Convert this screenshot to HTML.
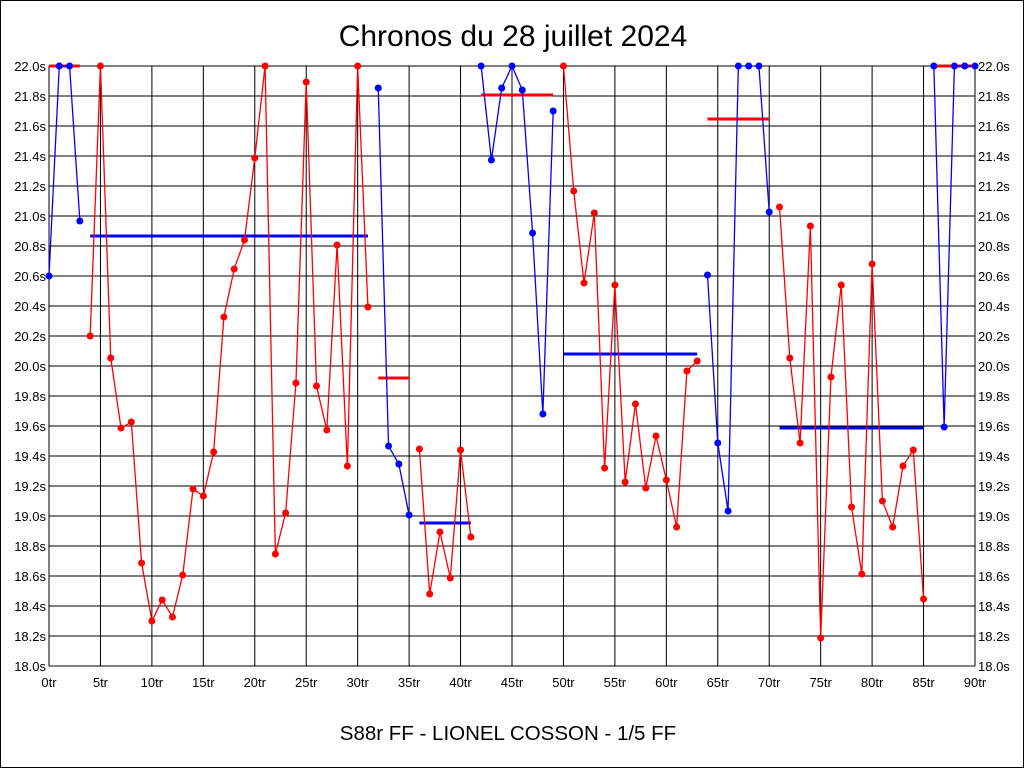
<!DOCTYPE html>
<html><head><meta charset="utf-8"><style>
html,body{margin:0;padding:0;background:#fff}
svg{display:block}
text{font-family:"Liberation Sans",Arial,sans-serif}
</style></head><body>
<svg width="1024" height="768" xmlns="http://www.w3.org/2000/svg" id="s">
<rect x="0.5" y="0.5" width="1023" height="767" fill="#fff" stroke="#000"/>
<text x="513" y="46" font-size="30" text-anchor="middle">Chronos du 28 juillet 2024</text>
<text x="508" y="740" font-size="20.5" text-anchor="middle">S88r FF - LIONEL COSSON - 1/5 FF</text>
<g id="grid"></g>
<g id="data"></g>
</svg>
<script>
var ns="http://www.w3.org/2000/svg",s=document.getElementById('s'),g=document.getElementById('grid'),d=document.getElementById('data');
function el(p,t,a,txt){var e=document.createElementNS(ns,t);for(var k in a)e.setAttribute(k,a[k]);if(txt!=null)e.textContent=txt;p.appendChild(e);return e;}
var X0=49,X1=975,Y0=66,Y1=666;
function px(i){return X0+i*(X1-X0)/90;}
for(var k=0;k<=20;k++){var y=Y0+k*30;el(g,'line',{x1:X0,x2:X1,y1:y,y2:y,stroke:'#000','stroke-width':1});
 var v=(22-k*0.2).toFixed(1)+'s';
 el(g,'text',{x:X0-3,y:y+5,'font-size':13,'text-anchor':'end'},v);
 el(g,'text',{x:X1+3,y:y+5,'font-size':13},v);}
for(var k=0;k<=18;k++){var x=px(k*5);el(g,'line',{x1:x,x2:x,y1:Y0,y2:Y1,stroke:'#000','stroke-width':1});
 el(g,'text',{x:x,y:Y1+21,'font-size':13,'text-anchor':'middle'},(k*5)+'tr');}
var segs=[
['b',0,[276,66,66,221]],
['r',4,[336,66,358,428,422,563,621,600,617,575,489,496,452,317,269,240,158,66,554,513,383,82,386,430,245,466,66,307]],
['b',32,[88,446,464,515]],
['r',36,[449,594,532,578,450,537]],
['b',42,[66,160,88,66,90,233,414,111]],
['r',50,[66,191,283,213,468,285,482,404,488,436,480,527,371,361]],
['b',64,[275,443,511,66,66,66,212]],
['r',71,[207,358,443,226,638,377,285,507,574,264,501,527,466,450,599]],
['b',86,[66,427,66,66,66]]];
var col={b:'#0000ff',r:'#ff0000'};
el(d,'line',{x1:px(0),x2:px(3),y1:66,y2:66,stroke:'#f00','stroke-width':3});
el(d,'line',{x1:px(86),x2:px(90),y1:66,y2:66,stroke:'#f00','stroke-width':3});
var avg=[['b',4,31,236],['r',32,35,378],['b',36,41,523],['r',42,49,95],['b',50,63,354],['r',64,70,119],['b',71,85,428]];
avg.forEach(function(a){el(d,'line',{x1:px(a[1]),x2:px(a[2]),y1:a[3],y2:a[3],stroke:col[a[0]],'stroke-width':3});});
segs.forEach(function(sg){var c=col[sg[0]],pts=sg[2].map(function(y,j){return px(sg[1]+j)+','+y;}).join(' ');
 el(d,'polyline',{points:pts,fill:'none',stroke:c,'stroke-width':1.3});
 sg[2].forEach(function(y,j){el(d,'circle',{cx:px(sg[1]+j),cy:y,r:3.5,fill:c});});});
</script>
</body></html>
